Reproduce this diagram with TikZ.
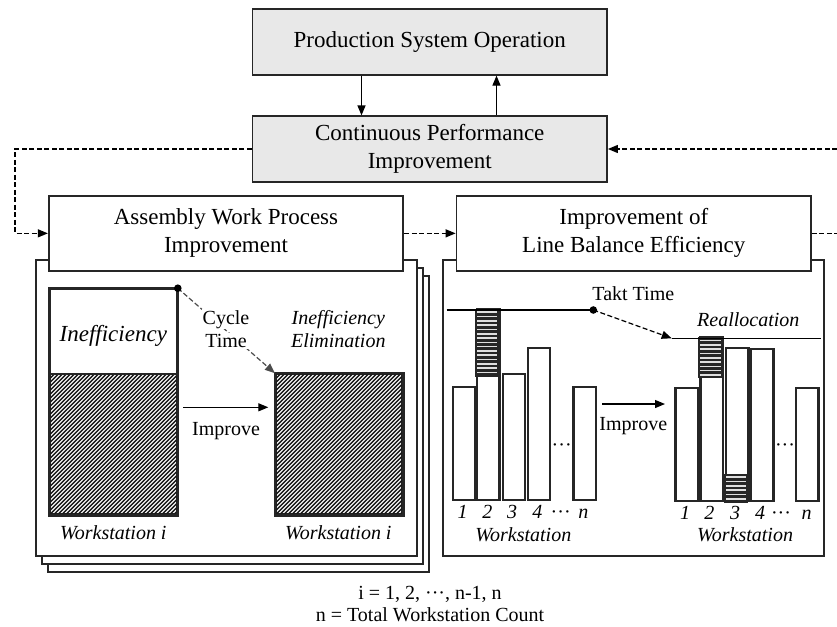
\documentclass[tikz,border=0pt]{standalone}
\usepackage{fontspec}
\setmainfont{Liberation Serif}
\usetikzlibrary{arrows.meta}
\newcommand\hstripes[4]{%
  \begin{scope}
    \clip (#1,#2) rectangle (#3,#4);
    \fill[black!85] (#1,#2) rectangle (#3,#4);
    \foreach \yy in {0,4.3,...,90} \draw[gray!25, line width=1.6pt] (#1,#2+\yy+2.2) -- (#3,#2+\yy+2.2);
  \end{scope}
  \draw[blk] (#1,#2) rectangle (#3,#4);
}
\newcommand\dhatch[4]{%
  \begin{scope}
    \clip (#1,#2) rectangle (#3,#4);
    \foreach \k in {-160,-156,...,160} \draw[black!90, line width=1.45pt] (#1+\k,#4) -- ++(160,-160);
  \end{scope}
}
\tikzset{
  box/.style={draw=black!85, line width=1.8pt, rectangle, inner sep=0pt, align=center, font=\fontsize{23}{28}\selectfont},
  graybox/.style={box, fill=gray!18, minimum width=354.5pt},
  whbox/.style={box, fill=white, minimum width=354.5pt, minimum height=74.7pt},
  page/.style={draw=black!85, line width=1.7pt, fill=white, rectangle, inner sep=0pt, minimum width=381pt, minimum height=296pt},
  blk/.style={draw=black!85, line width=2.2pt},
  bar/.style={blk, fill=white, rectangle, inner sep=0pt, minimum width=22.3pt, anchor=south west},
  wsbox/.style={blk, fill=white, rectangle, inner sep=0pt},
  txt/.style={font=\fontsize{20}{24}\selectfont, inner sep=0pt, anchor=base},
  itxt/.style={txt, font=\fontsize{20}{24}\selectfont\itshape},
  conn/.style={line width=1.2pt, -{Triangle[length=10pt,width=8pt]}},
  dconn/.style={conn, dash pattern=on 5pt off 2.5pt},
  dline/.style={line width=1.2pt, dash pattern=on 5pt off 2.5pt},
}
\begin{document}
\begin{tikzpicture}[x=1pt,y=-1pt]
\useasboundingbox (0,0) rectangle (837,626);
% top boxes
\node[graybox, minimum height=65.4pt] (top) at (429.75,42) {Production System Operation};
\node[graybox, minimum height=65.4pt] (mid) at (429.75,149) {Continuous Performance\\Improvement};
\draw[conn] ([xshift=-68.25pt]top.south) -- ([xshift=-68.25pt]mid.north);
\draw[conn] ([xshift=66.75pt]mid.north) -- ([xshift=66.75pt]top.south);
% panels
\node[page] (pg3) at (238.8,424.3) {};
\node[page] (pg2) at (232.8,416) {};
\node[page] (pg1) at (226.2,408) {};
\node[page] (rp) at (633.8,408) {};
\node[whbox] (lh) at (226,233.35) {Assembly Work Process\\Improvement};
\node[whbox] (rh) at (633.75,233.35) {Improvement of\\Line Balance Efficiency};
% dashed connectors
\coordinate (lx) at (15,233.35);
\coordinate (rx) at (837,149);
\coordinate (rx2) at (837,233.35);
\draw[dconn] (mid.west) -| (lx) -- (lh.west);
\draw[dconn] (rx) -- (mid.east);
\draw[dline] (rh.east) -- (rx2);
\draw[dconn] (lh.east) -- (rh.west);
% ---- left panel ----
\node[wsbox, minimum width=126.7pt, minimum height=225pt] (wsA) at (113.35,401.8) {};
\dhatch{50}{374.3}{176.7}{514.3}
\draw[blk] (50,374.3) -- (176.7,374.3);
\draw[blk] (wsA.south west) rectangle (wsA.north east);
\node[wsbox, minimum width=126.3pt, minimum height=140pt] (wsB) at (339.15,444.3) {};
\dhatch{276}{374.3}{402.3}{514.3}
\draw[blk] (wsB.south west) rectangle (wsB.north east);
\coordinate (ct) at (wsA.north east);
\draw[conn, black!70, dash pattern=on 5pt off 2.5pt] (ct) -- (wsB.north west);
\fill (ct) circle (3.8pt);
\node[itxt, font=\fontsize{23}{28}\selectfont\itshape] (ineff) at (113.3,341.7) {Inefficiency};
\node[txt, fill=white, inner sep=1pt] (cy1) at (226,324) {Cycle};
\node[txt, fill=white, inner sep=1pt] (cy2) at (226,347.3) {Time};
\node[itxt] (el1) at (338.3,324) {Inefficiency};
\node[itxt] (el2) at (338.3,347.3) {Elimination};
\coordinate (imA0) at (183.3,407.3);
\coordinate (imA1) at (268.3,407.3);
\draw[conn] (imA0) -- (imA1);
\node[txt] (impA) at (226,435) {Improve};
\node[itxt] (wsAl) at (113.3,539.3) {Workstation i};
\node[itxt] (wsBl) at (338.3,539.3) {Workstation i};
% ---- right panel ----
\coordinate (tk0) at (446.7,310);
\coordinate (tk1) at (593.3,310);
\node[bar, minimum height=113pt] (b1) at (451.7,500.7) {};
\node[bar, minimum height=190.7pt] (b2) at (476,500.7) {};
\node[bar, minimum height=125.7pt] (b3) at (501.7,500.7) {};
\node[bar, minimum height=151.7pt] (b4) at (526.7,500.7) {};
\node[bar, minimum height=113pt] (bn) at (572.3,500.7) {};
\hstripes{476}{310}{498.3}{375.7}
\draw[line width=1.5pt] (tk0) -- (tk1);
\node[txt] (takt) at (633.3,300.7) {Takt Time};
\coordinate (ra0) at (671.7,338.3);
\coordinate (ra1) at (820.7,338.3);
\node[bar, minimum height=112.4pt] (c1) at (674.3,501.7) {};
\node[bar, minimum height=163.4pt] (c2) at (699.3,501.7) {};
\node[bar, minimum height=152.4pt] (c3) at (725,501.7) {};
\node[bar, minimum height=151.7pt] (c4) at (750,501.7) {};
\node[bar, minimum height=112.7pt] (cn) at (795,501.7) {};
\hstripes{699.3}{338.3}{721.6}{376.7}
\hstripes{725}{475}{747.3}{501.7}
\draw[line width=1.5pt] (ra0) -- (ra1);
\draw[conn, dash pattern=on 5pt off 2.5pt] (tk1) -- (ra0);
\fill (tk1) circle (3.8pt);
\node[itxt] (realloc) at (748.3,326.7) {Reallocation};
\node[txt, anchor=center] (dotsL) at (561.7,447.7) {···};
\node[txt, anchor=center] (dotsR) at (785,447.7) {···};
\coordinate (imB0) at (602.3,404);
\coordinate (imB1) at (665,404);
\draw[conn] (imB0) -- (imB1);
\node[txt] (impB) at (633.3,430) {Improve};
% labels
\node[itxt] (l1) at (462.7,518.3) {1};
\node[itxt] (l2) at (487.3,518.3) {2};
\node[itxt] (l3) at (512,518.3) {3};
\node[itxt] (l4) at (537.3,518.3) {4};
\node[txt] (ld) at (560.7,518.3) {···};
\node[itxt] (ln) at (583.3,518.3) {n};
\node[itxt] (wsL) at (523.3,541.7) {Workstation};
\node[itxt] (r1) at (685,519.5) {1};
\node[itxt] (r2) at (709.3,519.5) {2};
\node[itxt] (r3) at (735,519.5) {3};
\node[itxt] (r4) at (760,519.5) {4};
\node[txt] (rd) at (781,519.5) {···};
\node[itxt] (rn) at (806.7,519.5) {n};
\node[itxt] (wsR) at (745,541.7) {Workstation};
% bottom note
\node[txt] (note1) at (430,599.3) {i = 1, 2, ···, n-1, n};
\node[txt] (note2) at (430,621.7) {n = Total Workstation Count};
\end{tikzpicture}
\end{document}
